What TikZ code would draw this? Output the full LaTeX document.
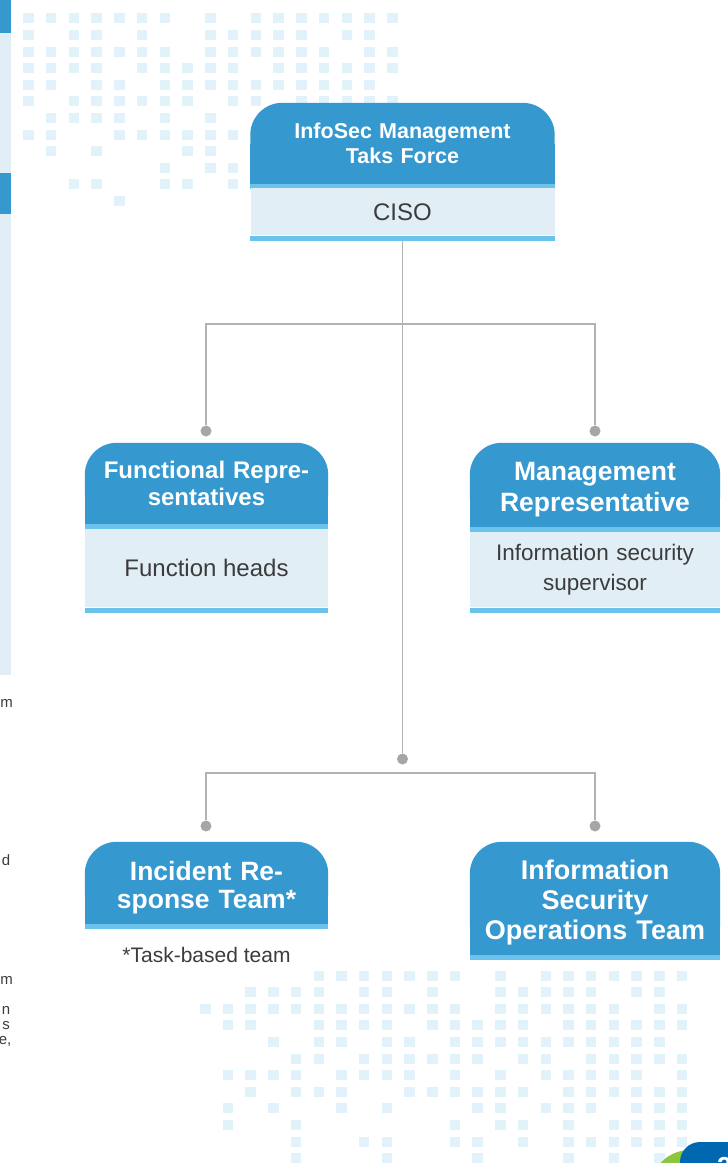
\documentclass[tikz,border=0pt]{standalone}
\usepackage{fontspec}
\setmainfont{Liberation Sans}
\usepackage{tikz}
\usetikzlibrary{backgrounds}
\usetikzlibrary{shapes,positioning}
\definecolor{hdblue}{HTML}{3598CE}
\definecolor{stripeblue}{HTML}{6BC2EB}
\definecolor{bodyblue}{HTML}{E1EEF6}
\definecolor{gridblue}{HTML}{E1F2FA}
\definecolor{linegray}{HTML}{B2B2B2}
\definecolor{dotgray}{HTML}{A6A6A6}
\definecolor{txtgray}{HTML}{3C3C3C}
\definecolor{pageblue}{HTML}{0067B1}
\definecolor{pagegreen}{HTML}{8CC63F}
\newcommand{\lowstrut}{\rule{0pt}{28pt}}
\tikzset{hd/.style={text=white,align=center,inner sep=0pt},
  bd/.style={fill=bodyblue,text=txtgray,align=center,inner sep=0pt},
  frag/.style={text=txtgray,font=\fontsize{15}{18}\selectfont,anchor=base east,inner sep=0pt},
  conn/.style={draw=linegray,line width=1.3pt},
  dot/.style={circle,fill=dotgray,inner sep=0pt,minimum size=11pt},
  sq/.style={fill=gridblue}}

\begin{document}
\begin{tikzpicture}[x=1pt,y=-1pt]
  \useasboundingbox (0,0) rectangle (728,1163);
  \clip (0,0) rectangle (728,1163);

  % bits of the page on the left
  \fill[hdblue] (0,0) rectangle (11,33);
  \fill[bodyblue] (0,33) rectangle (11,173);
  \fill[hdblue] (0,173) rectangle (11,214);
  \fill[bodyblue] (0,214) rectangle (11,675);
  \node[frag] (fa) at (13,707) {m};
  \node[frag] (fb) at (10.5,865) {d};
  \node[frag] (fc) at (13,984) {m};
  \node[frag] (fd) at (10.5,1014) {n};
  \node[frag] (fe) at (10,1029) {s};
  \node[frag] (ff) at (11.5,1044) {e,};

  \node[hd,minimum width=304pt,minimum height=81pt,text width=290pt,font=\bfseries\fontsize{21.5}{25}\selectfont] (tf) at (402.5,143.5) {InfoSec Management\\Taks Force};
  \node[bd,minimum width=304pt,minimum height=47pt,font=\fontsize{24}{28}\selectfont,below=4pt of tf] (ciso) {CISO};

  \node[hd,minimum width=243pt,minimum height=81pt,text width=235pt,font=\bfseries\fontsize{24}{27}\selectfont] (fr) at (206.5,483.5) {Functional Repre-\\sentatives};
  \node[bd,minimum width=243pt,minimum height=78pt,font=\fontsize{24}{28}\selectfont,below=5pt of fr] (fh) {Function heads};

  \node[hd,minimum width=250pt,minimum height=84pt,text width=240pt,font=\bfseries\fontsize{26.5}{31}\selectfont] (mr) at (595,485) {\lowstrut Management\\Representative};
  \node[bd,minimum width=250pt,minimum height=75pt,text width=240pt,font=\fontsize{22.5}{30}\selectfont,below=5pt of mr] (iss) {Information security\\supervisor};

  \node[hd,minimum width=243pt,minimum height=82pt,text width=235pt,font=\bfseries\fontsize{26.5}{28}\selectfont] (irt) at (206.5,883) {\lowstrut Incident Re-\\sponse Team*};
  \node[text=txtgray,font=\fontsize{21}{25}\selectfont,inner sep=0pt] (tb) at (206.5,955) {*Task-based team};

  \node[hd,minimum width=250pt,minimum height=113pt,text width=240pt,font=\bfseries\fontsize{27}{30}\selectfont] (ist) at (595,898.5) {\lowstrut Information\\Security\\Operations Team};

  \foreach \n in {ciso,fh,iss}
    \fill[stripeblue] (\n.south west) rectangle ([yshift=-5pt]\n.south east);

  \begin{scope}[on background layer]
    \foreach \r/\cols in {0/{0,1,2,3,4,5,6,8,10,11,12,13,14,15,16},
        1/{0,2,3,5,8,9,10,11,12,14,15},
        2/{0,1,2,3,4,5,6,8,9,10,11,12,13,15,16},
        3/{0,1,2,3,5,6,7,8,9,11,12,13,14,15,16},
        4/{0,1,3,4,6,7,8,9,10,11,12,13,14,15},
        5/{0,2,3,4,5,6,7,9,10,12,13,14,15,16},
        6/{1,2,3,4,6,8},7/{0,1,4,5,6,7,8,9},8/{1,3,7,8},
        9/{6,8,9},10/{2,3,6,7,9},11/{4}}
      \foreach \c in \cols
        \fill[sq] (23+22.75*\c,13.3+16.6*\r) rectangle ++(10.5,10);
    \foreach \r/\cols in {0/{5,6,7,8,9,10,11,13,15,16,17,18,19,20,21},
        1/{2,3,4,5,7,8,10,13,14,15,16,17,19,20},
        2/{0,1,2,3,4,5,6,7,8,9,10,11,13,14,15,16,17,18,20,21},
        3/{1,2,5,6,7,8,10,11,12,13,14,16,17,18,19,20,21},
        4/{3,5,6,8,9,11,12,13,14,15,16,17,18,19,20},
        5/{4,5,7,8,9,10,11,12,14,15,17,18,19,20,21},
        6/{1,2,3,4,6,7,8,9,11,13,15,16,17,18,19,21},
        7/{2,4,5,6,9,10,11,12,13,14,16,17,18,19,20,21},
        8/{1,3,6,8,12,13,15,16,17,19,20,21},
        9/{1,4,11,13,14,16,18,19,20,21},
        10/{4,7,8,11,12,14,16,17,18,19,20,21},
        11/{4,8,12,16,18,20}}
      \foreach \c in \cols
        \fill[sq] (200+22.7*\c,970.5+16.6*\r) rectangle ++(10.5,10);
    \foreach \n in {tf,fr,mr,irt,ist} {
      \fill[hdblue,rounded corners=32pt] (\n.north west) rectangle (\n.south east);
      \fill[hdblue] (\n.west) rectangle (\n.south east);
      \fill[stripeblue] (\n.south west) rectangle ([yshift=-5pt]\n.south east);
    }
  \end{scope}

  % connectors
  \coordinate (j1) at (402.5,324);
  \coordinate (j2) at (402.5,773);
  \node[dot] (dm) at (402.5,759) {};
  \node[dot] (dfr) at (206,431) {};
  \node[dot] (dmr) at (595,431) {};
  \node[dot] (dirt) at (206,826) {};
  \node[dot] (dist) at (595,826) {};
  \draw[conn] ([yshift=-5pt]ciso.south) -- (dm);
  \draw[conn] (dfr) |- (j1) -| (dmr);
  \draw[conn] (dirt) |- (j2) -| (dist);

  % corner of the page
  \fill[pagegreen] (690,1190) circle (40);
  \fill[pageblue,rounded corners=20pt] (680,1142) rectangle (790,1220);
  \node[text=white,font=\bfseries\fontsize{26}{30}\selectfont,anchor=base west,inner sep=0pt] (pg) at (717,1175) {2};
\end{tikzpicture}
\end{document}
